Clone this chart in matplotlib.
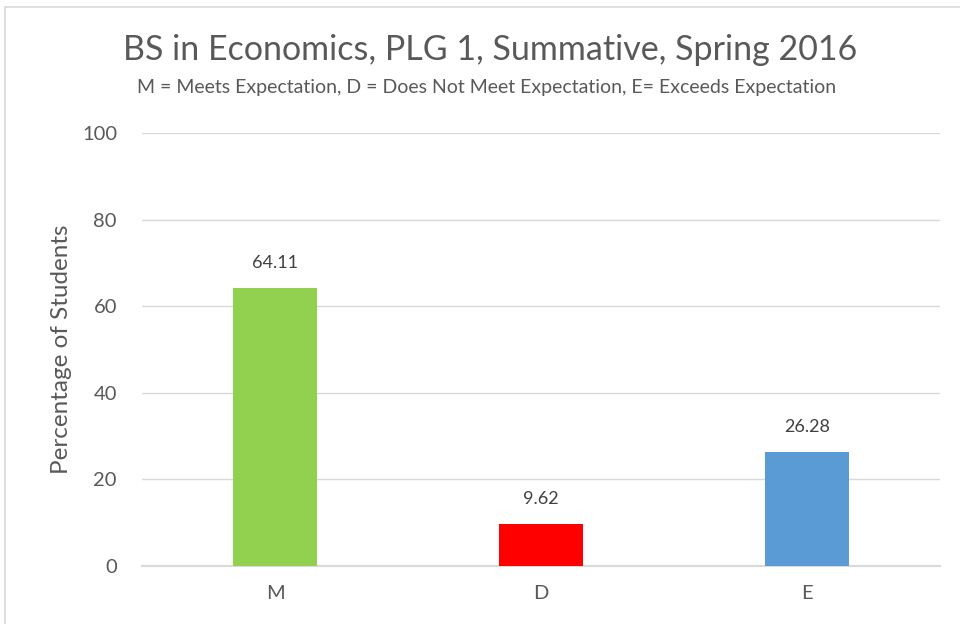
import matplotlib.pyplot as plt
from matplotlib.patches import Rectangle

# Data
categories = ['M', 'D', 'E']
percent = [64.11, 9.62, 26.28]
bar_colors = ['#92d050', '#ff0000', '#5b9bd5']
yticks = [0, 20, 40, 60, 80, 100]

plt.rcParams['font.family'] = ['Lato', 'DejaVu Sans']
text_color = '#595959'

fig = plt.figure(figsize=(9.6, 6.24), dpi=100)
ax = fig.add_axes([142 / 960, 1 - 566 / 624, 798 / 960, 433 / 624])

# chart frame
fig.patches.append(Rectangle((5 / 960, -0.1), 1.2, (624 - 7) / 624 + 0.1,
                             transform=fig.transFigure, fill=False,
                             edgecolor='#d9d9d9', linewidth=1.2))

x = range(len(categories))
bars = ax.bar(x, percent, width=0.316, color=bar_colors, zorder=3)
for b, v in zip(bars, percent):
    ax.text(b.get_x() + b.get_width() / 2, v + 4, f'{v:.2f}', ha='center', va='bottom',
            fontsize=13, color='#404040')

ax.set_xlim(-0.5, 2.5)
ax.set_ylim(0, 100)
ax.set_xticks(list(x))
ax.set_xticklabels(categories)
ax.set_yticks(yticks)
ax.grid(axis='y', color='#d9d9d9', linewidth=1, zorder=0)
for s in ['top', 'right', 'left']:
    ax.spines[s].set_visible(False)
ax.spines['bottom'].set_color('#d9d9d9')
ax.spines['bottom'].set_linewidth(1.5)
ax.tick_params(length=0, labelsize=14.5, labelcolor=text_color)
ax.tick_params(axis='x', pad=14)
ax.tick_params(axis='y', pad=18)
ax.set_ylabel('Percentage of Students', fontsize=17.5, color=text_color)
ax.yaxis.set_label_coords(-0.0877, 0.5)

fig.text(490 / 960, 1 - 50 / 624, 'BS in Economics, PLG 1, Summative, Spring 2016',
         ha='center', va='center', fontsize=24.5, color=text_color)
fig.text(487 / 960, 1 - 87 / 624,
         'M = Meets Expectation, D = Does Not Meet Expectation, E= Exceeds Expectation',
         ha='center', va='center', fontsize=14, color=text_color)

fig.savefig('out.png', dpi=100)
